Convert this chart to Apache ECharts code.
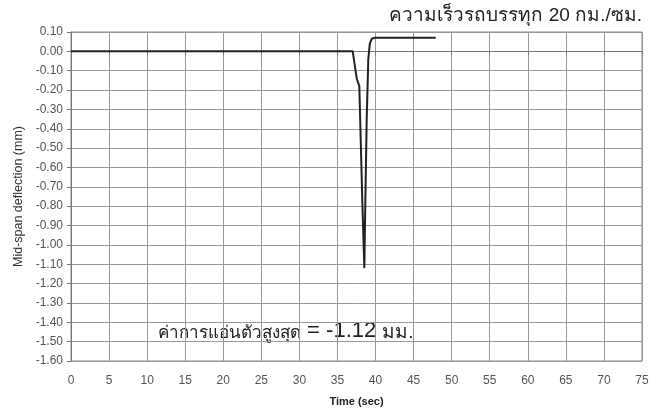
<!DOCTYPE html>
<html>
<head>
<meta charset="utf-8">
<script src="https://cdn.jsdelivr.net/npm/echarts@6/dist/echarts.min.js"></script>
<style>
html,body{margin:0;padding:0;background:#fff;}
#c{width:664px;height:412px;}
</style>
</head>
<body>
<div id="c"></div>
<script>
// Data
const timeSec = [0, 10, 20, 30, 37.0, 37.53, 37.74, 37.87, 38.05, 38.26, 38.53, 38.65, 38.84, 39.05, 39.25, 39.50, 39.93, 44.0, 47.9];
const deflection = [0.00, 0.00, 0.00, 0.00, 0.00, -0.14, -0.15, -0.18, -0.45, -0.77, -1.12, -0.80, -0.35, -0.04, 0.04, 0.065, 0.07, 0.07, 0.07];
const xTicks = {min: 0, max: 75, step: 5};
const yTicks = {min: -1.6, max: 0.1, step: 0.1};
const titleText = 'ความเร็วรถบรรทุก 20 กม./ซม.';
const noteThai = 'ค่าการแอ่นตัวสูงสุด';
const noteValue = ' = -1.12 ';
const noteUnit = 'มม.';
const xName = 'Time (sec)';
const yName = 'Mid-span deflection (mm)';

const pts = timeSec.map((t, i) => [t, deflection[i]]);
const chart = echarts.init(document.getElementById('c'));
const font = '"Liberation Sans", Arial, "DejaVu Sans", sans-serif';
chart.setOption({
  backgroundColor: '#fff',
  animation: false,
  textStyle: {fontFamily: font},
  title: [{
    text: titleText,
    right: 17, top: 1,
    textStyle: {fontSize: 19, fontWeight: 'normal', color: '#222', fontFamily: font}
  }],
  graphic: [{
    type: 'text',
    left: 158, top: 320,
    style: {
      text: '{a|' + noteThai + '}{b|' + noteValue + '}{c|' + noteUnit + '}',
      fill: '#222',
      rich: {
        a: {fontSize: 17, fontFamily: font, fill: '#222', verticalAlign: 'bottom'},
        b: {fontSize: 22, fontFamily: font, fill: '#222', verticalAlign: 'bottom'},
        c: {fontSize: 19, fontFamily: font, fill: '#222', verticalAlign: 'bottom'}
      }
    }
  }],
  grid: {left: 71, right: 22, top: 32, bottom: 49.5, containLabel: false,
         show: true, borderColor: '#888', borderWidth: 1},
  xAxis: {
    type: 'value', min: xTicks.min, max: xTicks.max, interval: xTicks.step,
    name: xName, nameLocation: 'middle', nameGap: 35,
    nameTextStyle: {fontSize: 11, fontWeight: 'bold', color: '#222', fontFamily: font},
    axisLine: {show: true, lineStyle: {color: '#777'}},
    axisTick: {show: true, length: 4, lineStyle: {color: '#777'}},
    axisLabel: {fontSize: 12, color: '#555', margin: 14, fontFamily: font},
    splitLine: {show: true, lineStyle: {color: '#999', width: 1}}
  },
  yAxis: {
    type: 'value', min: yTicks.min, max: yTicks.max, interval: yTicks.step,
    name: yName, nameLocation: 'middle', nameGap: 39, nameRotate: 90,
    nameTextStyle: {fontSize: 12.5, color: '#333', fontFamily: font},
    axisLine: {show: true, lineStyle: {color: '#777'}},
    axisTick: {show: true, length: 4, lineStyle: {color: '#777'}},
    axisLabel: {fontSize: 12, color: '#555', margin: 8, fontFamily: font,
                formatter: v => v.toFixed(2)},
    splitLine: {show: true, lineStyle: {color: '#999', width: 1}}
  },
  series: [{
    type: 'line', data: pts, showSymbol: false, symbol: 'none',
    lineStyle: {color: '#222', width: 2}
  }]
});
</script>
</body>
</html>
